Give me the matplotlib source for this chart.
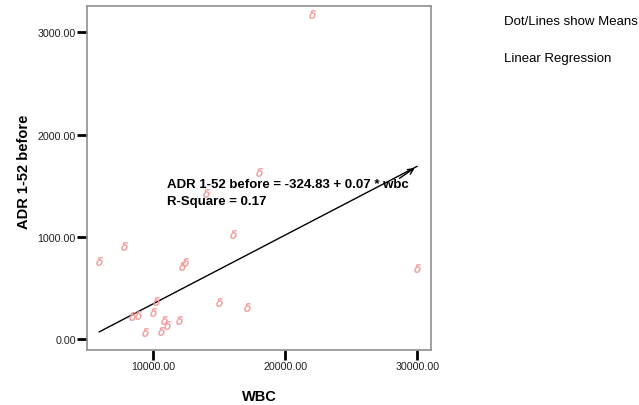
import matplotlib
matplotlib.use("Agg")
import matplotlib.pyplot as plt
import numpy as np

plt.rcParams["font.family"] = ["Liberation Sans", "DejaVu Sans"]

# WBC vs ADR 1-52 before
wbc = [22000, 18030, 13990, 16060, 7800, 5910, 12420, 12200, 29980, 10180,
       14980, 17080, 8360, 8820, 10000, 10810, 11020, 11970, 9370, 10610]
adr = [3182, 1638, 1430, 1029, 915, 768, 752, 713, 700, 377,
       367, 319, 231, 237, 264, 192, 140, 192, 68, 81]

intercept = -324.83
slope = 0.0672
equation = "ADR 1-52 before = -324.83 + 0.07 * wbc"
r_square = "R-Square = 0.17"

x_ticks = [10000, 20000, 30000]
y_ticks = [0, 1000, 2000, 3000]

fig = plt.figure(figsize=(6.39, 4.06), dpi=100)
ax = fig.add_axes([87 / 639, 1 - 351 / 406, (431 - 87) / 639, (351 - 7) / 406])

ax.scatter(wbc, adr, marker=r"$\delta$", s=38, color="#f29a9a", linewidths=0.3, zorder=3)

xs = np.array([min(wbc), max(wbc)])
ys = intercept + slope * xs
ax.plot(xs, ys, color="black", linewidth=1.0, zorder=2)
ax.annotate("", xy=(xs[1], ys[1]), xytext=(xs[1] - 1500, ys[1] - 1500 * slope - 30),
            arrowprops=dict(arrowstyle="->", color="black", lw=1.0, mutation_scale=10))

ax.text(11040, 1518, equation, fontsize=9.5, fontweight="bold", va="center")
ax.text(11040, 1352, r_square, fontsize=9.5, fontweight="bold", va="center")

ax.set_xlim(4980, 31040)
ax.set_ylim(-105, 3258)
ax.set_xticks(x_ticks)
ax.set_yticks(y_ticks)
ax.set_xticklabels([f"{t:.2f}" for t in x_ticks], fontsize=7.7, color="#222222")
ax.set_yticklabels([f"{t:.2f}" for t in y_ticks], fontsize=7.7, color="#222222")
ax.tick_params(axis="both", length=7, width=2, color="black", pad=1)
ax.tick_params(top=False, right=False)

for side in ax.spines.values():
    side.set_color("#909090")
    side.set_linewidth(1.2)

ax.set_xlabel("WBC", fontsize=10.5, fontweight="bold")
ax.set_ylabel("ADR 1-52 before", fontsize=10.5, fontweight="bold")
ax.xaxis.set_label_coords(0.5, -0.112)
ax.yaxis.set_label_coords(-0.163, 0.52)

fig.text(504 / 639, 1 - 22 / 406, "Dot/Lines show Means", fontsize=9.5, va="center")
fig.text(504 / 639, 1 - 59 / 406, "Linear Regression", fontsize=9.5, va="center")

fig.savefig("out.png", dpi=100)
